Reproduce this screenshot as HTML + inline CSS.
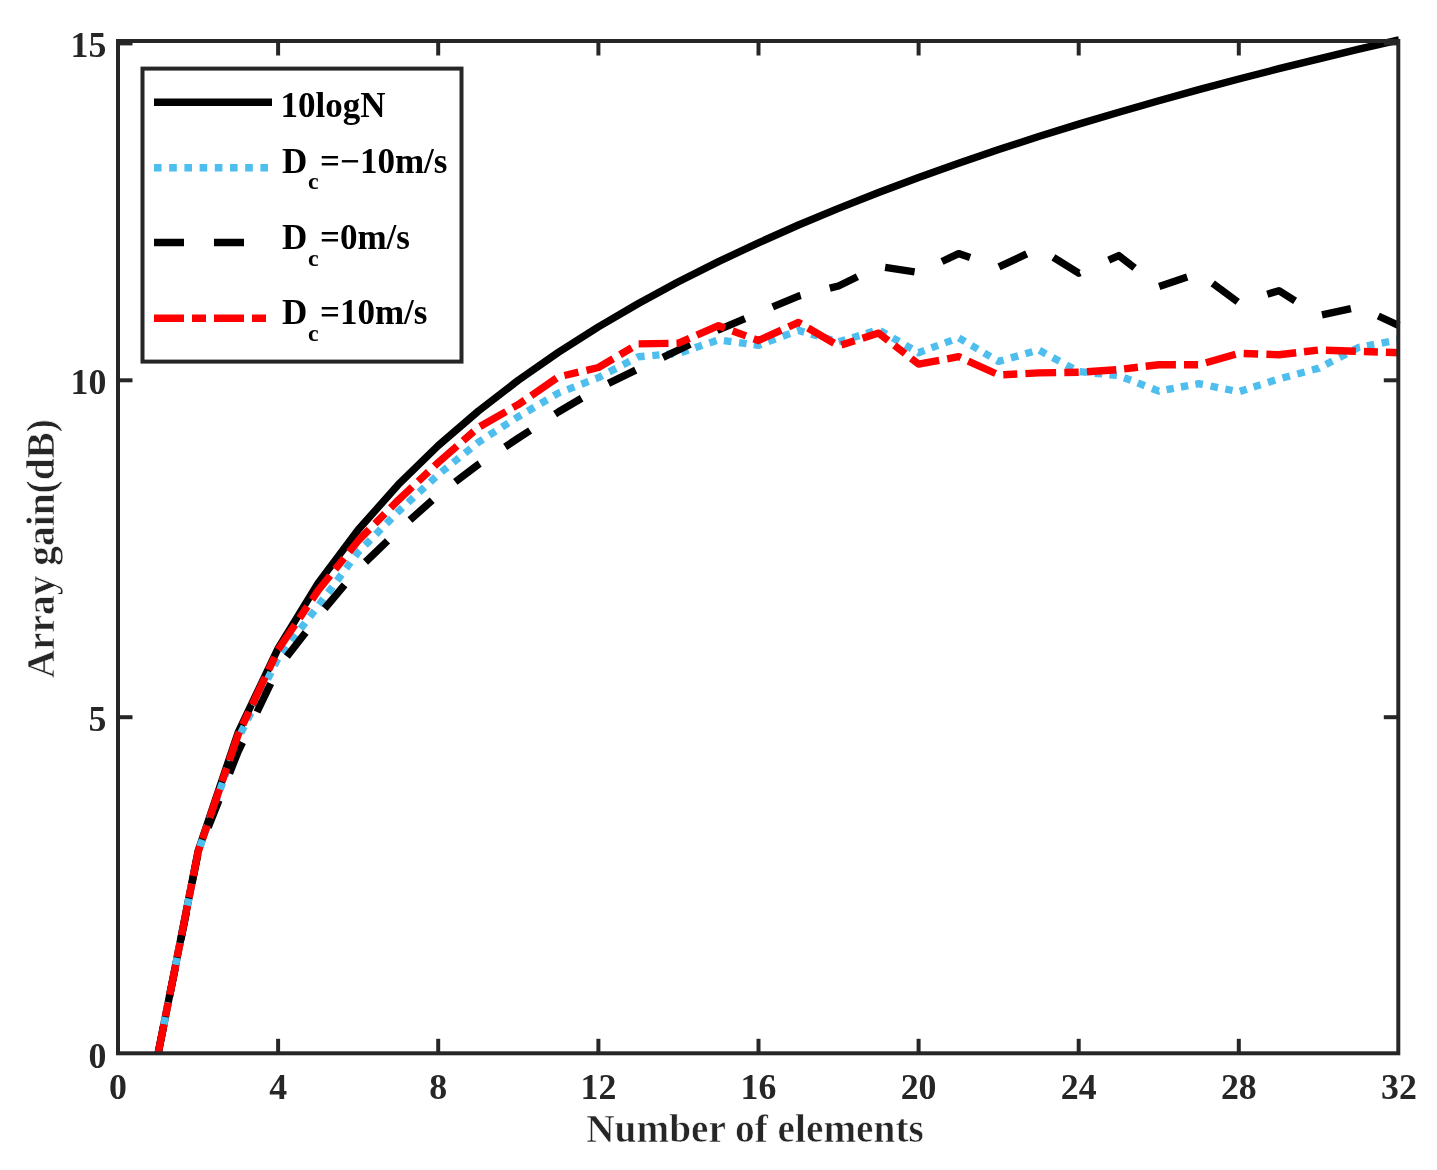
<!DOCTYPE html>
<html><head><meta charset="utf-8"><style>
html,body{margin:0;padding:0;background:#fff;}
svg{display:block;filter:blur(0.4px);}
text{font-family:"Liberation Serif",serif;font-weight:bold;}
.al{stroke:#fff;stroke-width:0.6px;}
</style></head><body>
<svg width="1437" height="1170" viewBox="0 0 1437 1170">
<rect width="1437" height="1170" fill="#fff"/>
<g fill="none" stroke-linejoin="round">
<polyline points="158.0,1054.1 198.1,851.3 238.1,732.6 278.1,648.4 318.1,583.1 358.2,529.8 398.2,484.7 438.2,445.6 478.3,411.1 518.3,380.3 558.3,352.4 598.4,326.9 638.4,303.5 678.4,281.8 718.5,261.6 758.5,242.8 798.5,225.0 838.5,208.3 878.6,192.5 918.6,177.5 958.6,163.2 998.7,149.6 1038.7,136.6 1078.7,124.1 1118.8,112.2 1158.8,100.7 1198.8,89.6 1238.8,79.0 1278.9,68.7 1318.9,58.8 1358.9,49.2 1399.0,39.9" stroke="#000" stroke-width="7.4"/>
<path d="M158.0,1054.1 L159.5,1046.6 M161.0,1039.2 L162.4,1031.8 M163.9,1024.4 L165.4,1017.0 M166.8,1009.6 L168.3,1002.2 M169.8,994.8 L171.2,987.4 M172.7,979.9 L174.2,972.6 M175.6,965.1 L177.1,957.8 M178.6,950.3 L180.0,943.0 M181.5,935.5 L183.0,928.1 M184.4,920.7 L185.9,913.3 M187.4,905.9 L188.8,898.5 M190.3,891.1 L191.8,883.7 M193.2,876.3 L194.7,868.9 M196.2,861.4 L197.6,854.1 M199.9,846.8 L202.4,839.8 M204.9,832.6 L207.4,825.4 M209.9,818.4 L212.5,811.2 M215.0,804.1 L217.5,797.0 M220.0,789.9 L222.5,782.7 M225.0,775.7 L227.6,768.5 M230.1,761.4 L232.6,754.3 M235.1,747.2 L237.6,740.0 M240.8,733.2 L244.2,726.4 M247.5,719.7 L250.9,712.9 M254.2,706.2 L257.6,699.4 M260.9,692.6 L264.3,685.8 M267.6,679.1 L271.0,672.3 M274.3,665.6 L277.7,658.8 M282.1,652.7 L286.8,646.7 M291.3,640.8 L296.0,634.8 M300.6,628.8 L305.2,622.8 M309.9,616.8 L314.4,610.8 M319.1,604.8 L323.5,598.8 M328.1,592.7 L332.5,586.7 M337.1,580.6 L341.5,574.5 M346.1,568.4 L350.5,562.4 M355.1,556.3 L358.2,552.1 L359.8,550.5 M365.1,545.1 L370.4,539.8 M375.8,534.4 L381.0,529.0 M386.4,523.6 L391.7,518.3 M397.0,512.9 L398.2,511.7 L402.5,507.8 M408.0,502.6 L413.5,497.5 M419.1,492.3 L424.6,487.2 M430.2,482.1 L435.7,477.0 M441.5,472.0 L447.3,467.3 M453.2,462.5 L459.0,457.8 M464.9,453.1 L470.9,448.3 M476.7,443.6 L478.3,442.3 L483.0,439.3 M489.3,435.2 L495.7,431.2 M502.0,427.1 L508.4,423.0 M514.7,419.0 L518.3,416.7 L521.2,415.0 M527.6,411.2 L534.2,407.3 M540.7,403.5 L547.2,399.7 M553.7,395.8 L558.3,393.1 L560.4,392.3 M567.4,389.6 L574.5,386.9 M581.4,384.2 L588.5,381.4 M595.5,378.7 L598.4,377.6 L602.4,375.5 M609.2,371.9 L616.1,368.4 M622.9,364.8 L629.8,361.2 M636.9,357.5 L638.4,356.7 L644.6,356.2 M652.3,355.6 L659.4,354.9 M666.2,354.4 L673.6,353.8 M681.3,352.4 L688.4,350.0 M695.2,347.7 L702.2,345.3 M709.4,342.9 L716.6,340.5 M723.9,340.6 L731.4,341.6 M739.1,342.6 L746.6,343.7 M753.8,344.6 L758.5,345.3 L761.1,344.3 M768.2,341.6 L775.5,339.0 M782.7,336.3 L790.0,333.6 M797.2,330.9 L798.5,330.4 L804.3,332.1 M811.2,334.1 L818.0,336.0 M825.0,338.0 L831.9,340.0 M838.7,341.8 L845.6,339.8 M852.5,337.7 L859.4,335.6 M866.2,333.5 L873.2,331.4 M880.0,330.6 L886.4,334.3 M892.8,337.9 L899.0,341.5 M905.4,345.1 L911.7,348.7 M917.9,352.3 L918.6,352.7 L924.6,350.4 M931.4,347.9 L938.1,345.4 M945.0,342.9 L951.8,340.4 M958.8,337.9 L965.1,341.7 M971.4,345.4 L977.8,349.1 M984.1,352.9 L990.4,356.6 M996.7,360.3 L998.7,361.4 L1003.6,360.0 M1010.9,357.9 L1018.2,355.9 M1025.4,353.8 L1032.4,351.8 M1039.4,350.3 L1046.0,353.9 M1052.7,357.5 L1059.5,361.2 M1066.4,364.9 L1073.0,368.5 M1079.6,371.6 L1087.1,372.4 M1094.8,373.2 L1102.3,373.9 M1109.5,374.7 L1116.9,375.4 M1124.1,377.7 L1131.0,380.3 M1137.7,382.9 L1144.8,385.7 M1152.0,388.5 L1158.8,391.1 L1159.1,391.0 M1166.5,389.7 L1173.8,388.3 M1180.9,387.0 L1188.2,385.6 M1195.4,384.3 L1198.8,383.7 L1202.9,384.5 M1210.6,386.0 L1218.0,387.6 M1225.3,389.0 L1232.6,390.5 M1239.9,391.4 L1246.8,389.2 M1253.6,387.0 L1260.6,384.8 M1267.9,382.5 L1275.2,380.1 M1282.5,378.0 L1289.9,376.0 M1297.3,374.0 L1304.7,372.0 M1312.0,370.0 L1318.9,368.2 L1319.3,368.0 M1325.9,364.5 L1332.5,361.0 M1339.5,357.4 L1346.3,353.9 M1353.2,350.3 L1358.9,347.3 L1360.0,347.1 M1366.9,345.8 L1374.2,344.5 M1381.6,343.1 L1389.1,341.7 M1396.5,340.3 L1399.0,339.9" stroke="#4DBEEE" stroke-width="7.4"/>
<path d="M158.0,1054.1 L163.7,1025.6 M169.4,997.0 L175.1,968.6 M180.8,940.0 L186.5,911.5 M192.1,883.1 L197.8,854.5 M208.2,827.5 L218.9,800.4 M229.5,773.3 L238.1,751.6 L242.5,742.3 M257.0,712.0 L270.7,683.5 M286.9,656.6 L305.6,632.4 M324.7,608.5 L344.6,584.9 M365.5,562.0 L387.5,540.8 M410.0,520.0 L432.2,500.3 M455.3,481.9 L478.3,464.5 L479.7,463.6 M505.2,446.8 L518.3,438.2 L530.1,430.5 M555.1,414.1 L558.3,412.0 L581.6,398.3 M608.5,383.4 L635.7,370.2 M663.0,357.3 L678.4,350.0 L690.1,344.1 M717.1,330.5 L718.5,329.8 L744.9,318.6 M772.7,306.9 L798.5,296.1 L800.7,295.5 M829.8,288.2 L838.5,286.0 L857.4,276.7 M885.1,267.4 L914.6,271.9 M942.0,261.5 L958.6,253.6 L970.1,257.5 M999.0,266.9 L1026.7,253.9 M1053.4,257.4 L1078.7,273.2 L1080.0,272.6 M1108.7,260.1 L1118.8,255.6 L1134.6,267.9 M1159.2,286.5 L1187.2,277.1 M1212.7,283.4 L1237.7,301.9 M1267.3,294.2 L1278.9,290.7 L1295.1,300.8 M1322.0,314.9 L1350.9,308.6 M1378.3,316.0 L1399.0,325.7" stroke="#000" stroke-width="7.4"/>
<path d="M158.0,1054.1 L163.9,1024.4 M165.5,1016.4 L168.2,1002.6 M169.8,994.7 L175.7,965.0 M177.2,957.1 L180.0,943.3 M181.6,935.3 L187.4,905.6 M189.0,897.6 L191.8,883.8 M193.3,876.0 L198.1,852.0 L199.9,846.4 M202.6,838.8 L207.1,825.4 M209.7,817.8 L219.5,789.2 M222.1,781.5 L226.7,768.2 M229.3,760.5 L238.1,734.7 L239.4,732.0 M242.8,724.6 L248.9,711.9 M252.3,704.6 L265.2,677.2 M268.6,669.9 L274.7,657.2 M278.1,649.8 L278.1,649.8 L295.0,624.8 M299.5,618.1 L307.4,606.4 M312.0,599.7 L318.1,590.5 L330.2,575.5 M335.2,569.3 L344.1,558.2 M349.1,552.0 L358.2,540.7 L369.3,529.4 M375.0,523.7 L384.9,513.7 M390.6,507.9 L398.2,500.2 L412.3,486.9 M418.2,481.4 L428.5,471.7 M434.4,466.1 L438.2,462.5 L457.1,446.0 M463.1,440.8 L473.8,431.4 M480.0,426.5 L506.0,411.6 M512.9,407.6 L518.3,404.6 L524.7,400.1 M531.2,395.7 L556.6,378.1 M564.4,375.5 L578.4,372.2 M586.4,370.3 L598.4,367.5 L613.2,358.8 M620.0,354.7 L631.8,347.8 M638.6,343.9 L668.5,343.4 M676.5,343.3 L678.4,343.2 L689.4,338.4 M696.8,335.2 L718.5,325.7 L725.0,328.2 M732.6,331.0 L746.0,335.9 M753.7,338.8 L758.5,340.5 L781.3,330.2 M788.6,326.9 L798.5,322.4 L801.2,323.9 M808.0,328.0 L834.1,343.3 M841.3,345.1 L854.7,340.8 M862.5,338.3 L878.6,333.1 L888.2,340.6 M894.4,345.4 L905.1,353.7 M911.2,358.4 L918.6,364.1 L939.2,360.3 M947.2,358.8 L958.6,356.7 L960.9,357.7 M968.2,361.1 L995.6,373.5 M1003.3,374.7 L1017.3,374.0 M1025.4,373.6 L1038.7,372.9 L1056.1,372.6 M1064.3,372.5 L1078.7,372.2 M1086.9,371.7 L1116.3,369.7 M1124.1,368.9 L1137.9,367.3 M1145.7,366.3 L1158.8,364.8 L1175.9,364.8 M1184.0,364.8 L1198.1,364.8 M1205.9,362.8 L1235.6,354.3 M1243.7,353.5 L1258.1,354.0 M1266.4,354.3 L1278.9,354.7 L1296.2,352.7 M1304.0,351.7 L1317.9,350.1 M1325.9,350.2 L1355.9,351.2 M1363.9,351.5 L1377.9,352.0 M1385.9,352.2 L1399.0,352.7" stroke="#FF0000" stroke-width="7.4"/>
</g>
<g stroke="#262626" stroke-width="4" fill="none">
<rect x="118" y="41" width="1280.3" height="1012.3"/>
<line x1="278.1" y1="1053.3" x2="278.1" y2="1038.8"/><line x1="278.1" y1="41" x2="278.1" y2="55.5"/><line x1="438.2" y1="1053.3" x2="438.2" y2="1038.8"/><line x1="438.2" y1="41" x2="438.2" y2="55.5"/><line x1="598.4" y1="1053.3" x2="598.4" y2="1038.8"/><line x1="598.4" y1="41" x2="598.4" y2="55.5"/><line x1="758.5" y1="1053.3" x2="758.5" y2="1038.8"/><line x1="758.5" y1="41" x2="758.5" y2="55.5"/><line x1="918.6" y1="1053.3" x2="918.6" y2="1038.8"/><line x1="918.6" y1="41" x2="918.6" y2="55.5"/><line x1="1078.7" y1="1053.3" x2="1078.7" y2="1038.8"/><line x1="1078.7" y1="41" x2="1078.7" y2="55.5"/><line x1="1238.8" y1="1053.3" x2="1238.8" y2="1038.8"/><line x1="1238.8" y1="41" x2="1238.8" y2="55.5"/><line x1="118" y1="717.2" x2="132.5" y2="717.2"/><line x1="1398.3" y1="717.2" x2="1383.8" y2="717.2"/><line x1="118" y1="380.3" x2="132.5" y2="380.3"/><line x1="1398.3" y1="380.3" x2="1383.8" y2="380.3"/><line x1="118" y1="43.4" x2="132.5" y2="43.4"/><line x1="1398.3" y1="43.4" x2="1383.8" y2="43.4"/>
</g>
<g font-size="35.8" fill="#262626">
<text x="118.0" y="1098.5" text-anchor="middle">0</text><text x="278.1" y="1098.5" text-anchor="middle">4</text><text x="438.2" y="1098.5" text-anchor="middle">8</text><text x="598.4" y="1098.5" text-anchor="middle">12</text><text x="758.5" y="1098.5" text-anchor="middle">16</text><text x="918.6" y="1098.5" text-anchor="middle">20</text><text x="1078.7" y="1098.5" text-anchor="middle">24</text><text x="1238.8" y="1098.5" text-anchor="middle">28</text><text x="1399.0" y="1098.5" text-anchor="middle">32</text>
<text x="106.3" y="1067.8" text-anchor="end">0</text><text x="106.3" y="730.9" text-anchor="end">5</text><text x="106.3" y="394.0" text-anchor="end">10</text><text x="106.3" y="57.1" text-anchor="end">15</text>
</g>
<text class="al" x="755" y="1142" font-size="39.3" fill="#262626" text-anchor="middle">Number of elements</text>
<text class="al" transform="translate(54.2,548.7) rotate(-90)" font-size="39.4" fill="#262626" text-anchor="middle">Array gain(dB)</text>
<g>
<rect x="142.5" y="68.6" width="319" height="293" fill="#fff" stroke="#262626" stroke-width="4"/>
<line x1="154" y1="102.3" x2="272" y2="102.3" stroke="#000" stroke-width="7.4"/>
<line x1="154" y1="167.7" x2="272" y2="167.7" stroke="#4DBEEE" stroke-width="7.4" stroke-dasharray="7.6 7.6"/>
<line x1="154" y1="242.5" x2="272" y2="242.5" stroke="#000" stroke-width="7.4" stroke-dasharray="30 30"/>
<line x1="154" y1="318.3" x2="272" y2="318.3" stroke="#FF0000" stroke-width="7.4" stroke-dasharray="30 8 14 8"/>
<g font-size="35" fill="#000">
<text x="280.5" y="116.9">10logN</text>
<text x="282" y="172.6">D</text><text x="308" y="189.3" font-size="24">c</text><text x="320" y="172.6">=&#8722;10m/s</text>
<text x="282" y="249.4">D</text><text x="308" y="266" font-size="24">c</text><text x="320" y="249.4">=0m/s</text>
<text x="282" y="324">D</text><text x="308" y="341" font-size="24">c</text><text x="320" y="324">=10m/s</text>
</g>
</g>
</svg>
</body></html>
